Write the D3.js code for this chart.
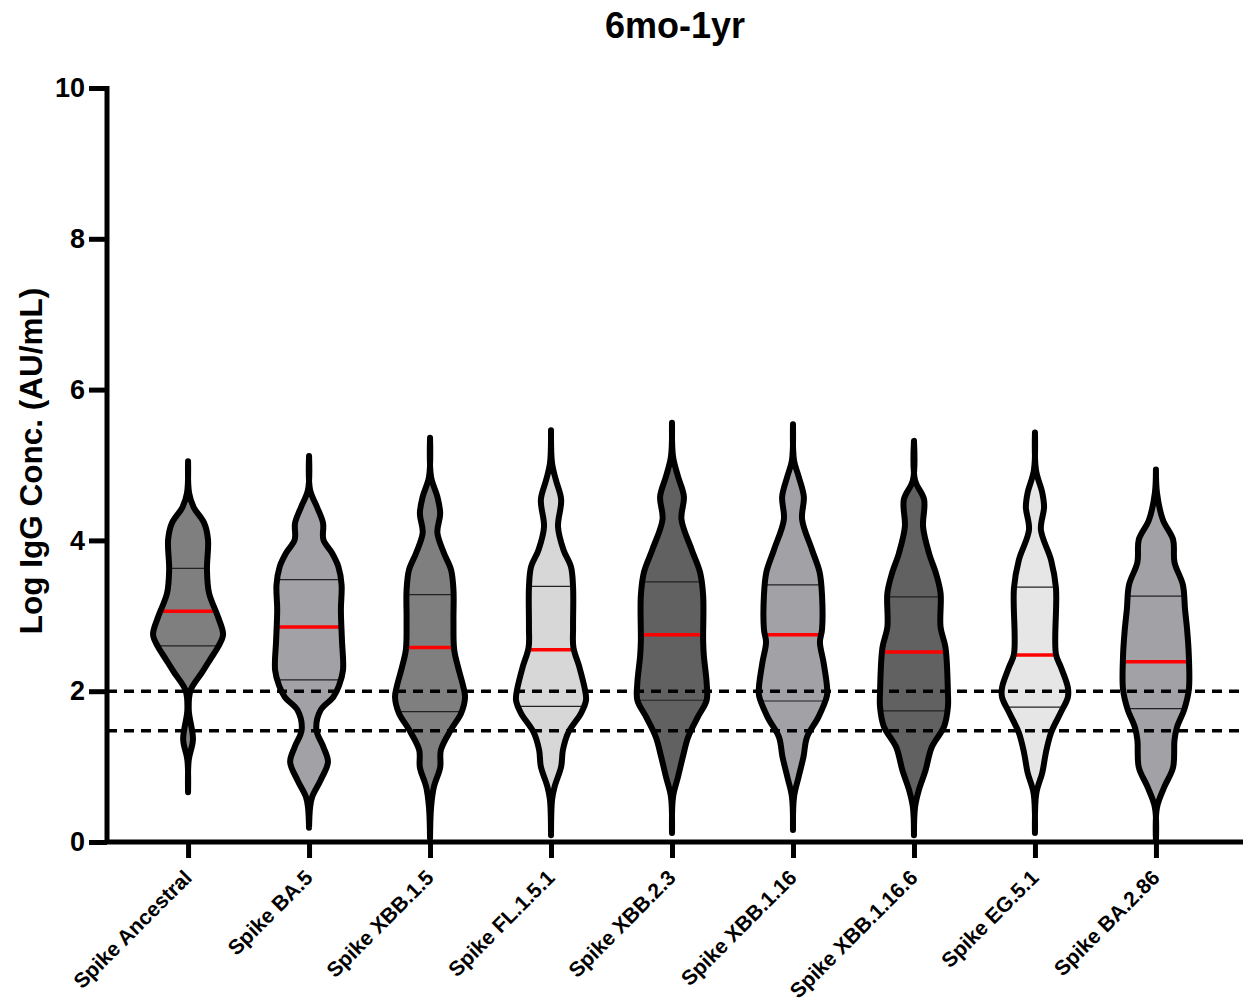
<!DOCTYPE html>
<html>
<head>
<meta charset="utf-8">
<script src="https://cdn.jsdelivr.net/npm/d3@7"></script>
<style>
  body { margin: 0; background: #fff; }
  text { font-family: Arial, "Liberation Sans", Helvetica, sans-serif; font-weight: bold; }
</style>
</head>
<body>
<svg id="chart" width="1253" height="1001"></svg>
<script>
// categories and fills
const categories = ["Spike Ancestral","Spike BA.5","Spike XBB.1.5","Spike FL.1.5.1","Spike XBB.2.3","Spike XBB.1.16","Spike XBB.1.16.6","Spike EG.5.1","Spike BA.2.86"];
const fills = ["#7f7f7f","#a1a1a6","#7f7f7f","#d7d7d7","#616161","#a1a1a6","#616161","#e6e6e6","#a1a1a6"];

// quartiles / medians (log units)
const q1Values     = [2.60, 2.15, 1.73, 1.80, 1.88, 1.87, 1.74, 1.79, 1.77];
const medianValues = [3.06, 2.85, 2.58, 2.55, 2.75, 2.75, 2.52, 2.48, 2.39];
const q3Values     = [3.63, 3.48, 3.28, 3.39, 3.45, 3.41, 3.25, 3.38, 3.26];

// violin profiles: [log value, relative density]
const densAncestral = [[5.05,0],[4.63,0.03],[4.44,0.16],[4.23,0.46],[4.01,0.57],[3.61,0.54],[3.30,0.60],[2.98,0.86],[2.75,1.00],[2.59,0.86],[2.42,0.63],[2.25,0.40],[2.01,0.07],[1.75,0.02],[1.36,0.14],[1.09,0.02],[0.66,0]];
const densBA5 = [[5.12,0],[4.67,0.03],[4.44,0.23],[4.23,0.40],[4.01,0.41],[3.83,0.66],[3.65,0.84],[3.41,0.93],[3.08,0.91],[2.68,0.94],[2.28,0.97],[2.08,0.86],[1.92,0.69],[1.75,0.33],[1.49,0.21],[1.26,0.41],[1.06,0.54],[0.82,0.33],[0.60,0.09],[0.46,0.03],[0.19,0]];
const densXBB15 = [[5.36,0],[4.84,0.03],[4.58,0.21],[4.36,0.29],[4.10,0.21],[3.83,0.40],[3.61,0.60],[3.34,0.67],[2.94,0.67],[2.55,0.69],[2.32,0.80],[2.08,0.94],[1.92,1.00],[1.71,0.89],[1.49,0.60],[1.22,0.31],[0.99,0.29],[0.73,0.11],[0.46,0.03],[0.05,0]];
const densFL151 = [[5.46,0],[5.02,0.03],[4.80,0.14],[4.54,0.29],[4.18,0.20],[3.87,0.36],[3.65,0.57],[3.38,0.63],[2.85,0.63],[2.58,0.64],[2.32,0.81],[2.02,0.97],[1.88,1.00],[1.71,0.86],[1.45,0.49],[1.22,0.34],[1.00,0.29],[0.73,0.10],[0.56,0.03],[0.09,0]];
const densXBB23 = [[5.56,0],[5.11,0.03],[4.85,0.17],[4.58,0.34],[4.28,0.27],[3.88,0.56],[3.58,0.80],[3.27,0.89],[2.66,0.89],[2.47,0.91],[2.11,0.99],[1.88,0.99],[1.66,0.74],[1.39,0.46],[1.13,0.31],[0.86,0.17],[0.60,0.03],[0.12,0]];
const densXBB116 = [[5.54,0],[5.06,0.03],[4.85,0.16],[4.58,0.31],[4.28,0.26],[3.88,0.54],[3.58,0.76],[3.27,0.83],[2.82,0.83],[2.65,0.77],[2.39,0.87],[2.07,0.97],[1.94,0.97],[1.66,0.73],[1.39,0.40],[1.13,0.30],[0.86,0.16],[0.60,0.03],[0.16,0]];
const densXBB1166 = [[5.32,0],[4.80,0.03],[4.54,0.29],[4.18,0.26],[3.83,0.43],[3.56,0.63],[3.30,0.76],[2.85,0.76],[2.58,0.90],[1.98,0.97],[1.79,0.97],[1.53,0.86],[1.26,0.51],[0.95,0.33],[0.69,0.14],[0.46,0.03],[0.09,0]];
const densEG51 = [[5.43,0],[4.93,0.03],[4.63,0.21],[4.44,0.26],[4.14,0.17],[3.74,0.46],[3.37,0.60],[2.49,0.60],[2.32,0.74],[2.05,0.94],[1.92,0.94],[1.71,0.73],[1.45,0.46],[1.18,0.31],[0.92,0.21],[0.65,0.04],[0.12,0]];
const densBA286 = [[4.94,0],[4.63,0.03],[4.27,0.20],[4.01,0.49],[3.71,0.53],[3.41,0.77],[3.09,0.83],[2.82,0.89],[2.47,0.94],[2.02,0.94],[1.76,0.81],[1.52,0.60],[1.35,0.53],[0.99,0.49],[0.73,0.24],[0.46,0.03],[0.02,0]];
const densities = [densAncestral, densBA5, densXBB15, densFL151, densXBB23, densXBB116, densXBB1166, densEG51, densBA286];

const yTicks = [0,2,4,6,8,10];
const cutoffs = [2.0, Math.log10(30)];

let svg = d3.select("#chart");
let plotLeft = 107, plotRight = 1243, plotTop = 88, plotBottom = 842;

let y = d3.scaleLinear().domain([0,10]).range([plotBottom, plotTop]);
let x = d3.scalePoint().domain(categories).range([plotLeft, 1237]).padding(0.67);
let w = d3.scaleLinear().domain([0,1]).range([0,35]);

// width of a violin at value v (linear interp of the profile)
function widthAt(prof, v){
    for (let i = 0; i < prof.length-1; i++){
        let a = prof[i], b = prof[i+1];
        if (v <= a[0] && v >= b[0]){
            let t = (a[0]-v)/(a[0]-b[0]);
            return a[1] + t*(b[1]-a[1]);
        }
    }
    return 0;
}

// violins
categories.forEach(function(c, i){
    let cx = x(c);
    let g = svg.append("g");
    let area = d3.area()
        .y(function(d){ return y(d[0]) })
        .x0(function(d){ return cx - w(d[1]) })
        .x1(function(d){ return cx + w(d[1]) })
        .curve(d3.curveCatmullRom.alpha(0.5));

    g.append("path").datum(densities[i])
        .attr("d", area)
        .attr("fill", fills[i]);

    [q1Values[i], q3Values[i]].forEach(function(q){
        let hw = w(widthAt(densities[i], q));
        g.append("line")
            .attr("x1", cx-hw).attr("x2", cx+hw)
            .attr("y1", y(q)).attr("y2", y(q))
            .attr("stroke", "#222").attr("stroke-width", 1.2);
    });

    let mw = w(widthAt(densities[i], medianValues[i]));
    g.append("line")
        .attr("x1", cx-mw).attr("x2", cx+mw)
        .attr("y1", y(medianValues[i])).attr("y2", y(medianValues[i]))
        .attr("stroke", "#ff0000").attr("stroke-width", 3.5);

    g.append("path").datum(densities[i])
        .attr("d", area)
        .attr("fill", "none")
        .attr("stroke", "#000")
        .attr("stroke-width", 6)
        .attr("stroke-linejoin", "round")
        .attr("stroke-linecap", "round");
});

// dashed cutoff lines
svg.append("g")
    .selectAll("line")
    .data(cutoffs)
    .enter()
    .append("line")
    .attr("x1", plotLeft).attr("x2", plotRight)
    .attr("y1", function(d){ return y(d) })
    .attr("y2", function(d){ return y(d) })
    .attr("stroke", "#000")
    .attr("stroke-width", 3.5)
    .attr("stroke-dasharray", "10,7");

// y axis
let yAxis = svg.append("g")
    .attr("transform", "translate(" + plotLeft + ",0)")
    .call(d3.axisLeft(y).tickValues(yTicks).tickSize(18).tickPadding(4));
yAxis.select(".domain").attr("stroke-width", 5).attr("d", "M0," + (plotTop-2) + "V" + (plotBottom+2));
yAxis.selectAll(".tick line").attr("stroke-width", 5);
yAxis.selectAll(".tick text").attr("font-size", 27).attr("fill", "#000");

// x axis
let xAxis = svg.append("g")
    .attr("transform", "translate(0," + plotBottom + ")")
    .call(d3.axisBottom(x).tickSize(16).tickFormat(""));
xAxis.select(".domain").attr("stroke-width", 5).attr("d", "M" + (plotLeft-2) + ",0H" + plotRight);
xAxis.selectAll(".tick line").attr("stroke-width", 5);

svg.append("g")
    .selectAll("text")
    .data(categories)
    .enter()
    .append("text")
    .attr("transform", function(d){ return "translate(" + (x(d)+5) + "," + 879 + ") rotate(-45)" })
    .attr("text-anchor", "end")
    .attr("font-size", 21)
    .text(function(d){ return d });

// titles
svg.append("text")
    .attr("x", 675).attr("y", 38)
    .attr("text-anchor", "middle")
    .attr("font-size", 36)
    .text("6mo-1yr");

svg.append("text")
    .attr("transform", "translate(42,461) rotate(-90)")
    .attr("text-anchor", "middle")
    .attr("font-size", 31.5)
    .text("Log IgG Conc. (AU/mL)");
</script>
</body>
</html>
